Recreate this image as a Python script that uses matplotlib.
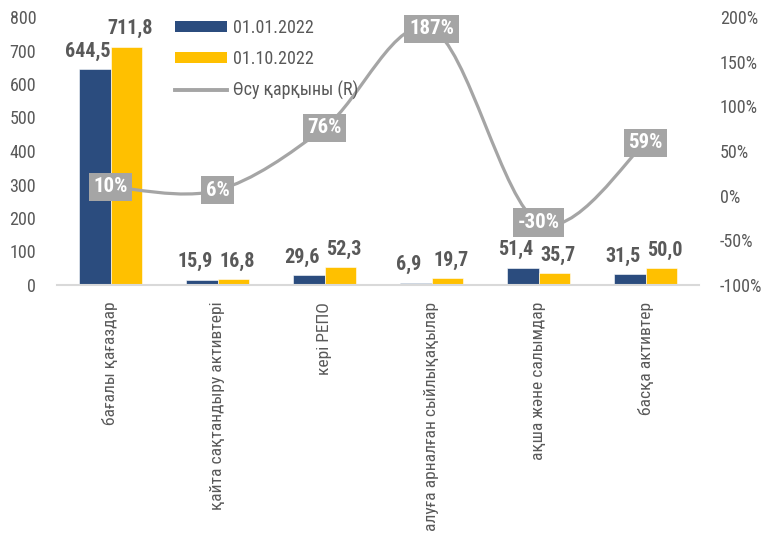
import matplotlib
matplotlib.use('Agg')
import matplotlib.pyplot as plt
from matplotlib.patches import Patch
from matplotlib.lines import Line2D
from matplotlib.path import Path
from matplotlib.patches import PathPatch
import numpy as np

plt.rcParams['font.family'] = ['Roboto Condensed', 'DejaVu Sans']

categories = ['бағалы қағаздар', 'қайта сақтандыру активтері', 'кері РЕПО',
              'алуға арналған сыйлықақылар', 'ақша және салымдар', 'басқа активтер']
values_2022_01 = [644.5, 15.9, 29.6, 6.9, 51.4, 31.5]
values_2022_10 = [711.8, 16.8, 52.3, 19.7, 35.7, 50.0]
growth_pct = [10, 6, 76, 187, -30, 59]
series_names = ['01.01.2022', '01.10.2022', 'Өсу қарқыны (R)']
left_ticks = [0, 100, 200, 300, 400, 500, 600, 700, 800]
right_ticks = [-100, -50, 0, 50, 100, 150, 200]

NAVY = '#2B4C7E'
GOLD = '#FFC000'
GREY = '#A5A5A5'
TXT = '#595959'

fig = plt.figure(figsize=(7.64, 5.33), dpi=100)
W, H = 764, 533
x0, x1, ytop, ybot = 57, 699, 17, 285
ax = fig.add_axes([x0 / W, 1 - ybot / H, (x1 - x0) / W, (ybot - ytop) / H])
ax2 = ax.twinx()

x = np.arange(len(categories))
bw = 0.29
ax.bar(x - bw / 2, values_2022_01, bw, color=NAVY, edgecolor='white', linewidth=0.4, zorder=2)
ax.bar(x + bw / 2, values_2022_10, bw, color=GOLD, edgecolor='white', linewidth=0.4, zorder=2)

def fmt(v):
    return f'{v:.1f}'.replace('.', ',')

for xi, v in zip(x, values_2022_01):
    ax.annotate(fmt(v), (xi - bw / 2, v), xytext=(-5, 6), textcoords='offset points',
                ha='center', va='bottom', fontsize=14.5, fontweight='bold', color=TXT)
for xi, v in zip(x, values_2022_10):
    ax.annotate(fmt(v), (xi + bw / 2, v), xytext=(3, 6), textcoords='offset points',
                ha='center', va='bottom', fontsize=14.5, fontweight='bold', color=TXT)

ax.set_xlim(-0.5, len(categories) - 0.5)
ax.set_ylim(0, 800)
ax.set_yticks(left_ticks)
ax.set_xticks(x)
ax.set_xticklabels(categories, rotation=90, va='top', ha='center')
ax.tick_params(axis='x', length=0, pad=12, labelsize=12.6, labelcolor=TXT)
ax.tick_params(axis='y', length=0, pad=15, labelsize=13, labelcolor=TXT)
for s in ['top', 'right', 'left']:
    ax.spines[s].set_visible(False)
ax.spines['bottom'].set_color('#D9D9D9')
ax.spines['bottom'].set_linewidth(1.5)
ax.spines['bottom'].set_zorder(3)

# smoothed line (Catmull-Rom style Bezier through the data points)
px = x.astype(float)
py = np.array(growth_pct, dtype=float)
verts = [(px[0], py[0])]
codes = [Path.MOVETO]
n = len(px)
for i in range(n - 1):
    p0 = np.array([px[max(i - 1, 0)], py[max(i - 1, 0)]])
    p1 = np.array([px[i], py[i]])
    p2 = np.array([px[i + 1], py[i + 1]])
    p3 = np.array([px[min(i + 2, n - 1)], py[min(i + 2, n - 1)]])
    c1 = p1 + (p2 - p0) / 6
    c2 = p2 - (p3 - p1) / 6
    verts += [tuple(c1), tuple(c2), tuple(p2)]
    codes += [Path.CURVE4] * 3
ax2.add_patch(PathPatch(Path(verts, codes), fill=False, edgecolor=GREY, linewidth=2.3,
                        capstyle='round', zorder=3))
for xi, g in zip(px, py):
    ax2.text(xi, g, f'{int(g)}%', ha='center', va='center', fontsize=15, fontweight='bold',
             color='white', zorder=4,
             bbox=dict(boxstyle='square,pad=0.22', fc=GREY, ec='none'))

ax2.set_ylim(-100, 200)
ax2.set_yticks(right_ticks)
ax2.set_yticklabels([f'{t}%' for t in right_ticks])
ax2.tick_params(axis='y', length=0, pad=15, labelsize=13, labelcolor=TXT)
for s in ['top', 'right', 'left', 'bottom']:
    ax2.spines[s].set_visible(False)

handles = [Patch(facecolor=NAVY, edgecolor='none'),
           Patch(facecolor=GOLD, edgecolor='none'),
           Line2D([0], [0], color=GREY, linewidth=2.8)]
fig.legend(handles, series_names, loc='upper left', bbox_to_anchor=(175 / W, 1 - 19 / H),
           frameon=False, fontsize=13, labelcolor=TXT, handlelength=2.9, handleheight=0.6,
           handletextpad=0.3, labelspacing=0.72, borderpad=0, borderaxespad=0)

fig.savefig('out.png', dpi=100)
